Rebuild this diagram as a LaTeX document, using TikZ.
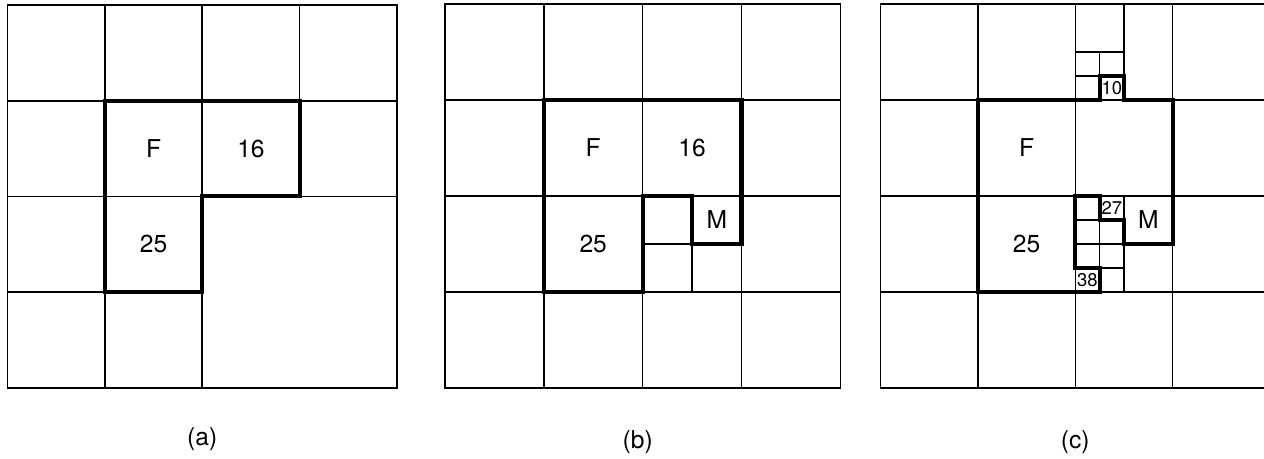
\documentclass[tikz,border=0pt]{standalone}
\usepackage{fontspec}
\setmainfont{TeX Gyre Heros}
\begin{document}
\begin{tikzpicture}[x=0.02cm,y=-0.02cm,cell/.style={line width=0.9pt},region/.style={line width=2.3pt,line join=miter},lbl/.style={font=\fontsize{14}{16}\selectfont},small/.style={font=\fontsize{10.5}{12}\selectfont,inner sep=0pt}]
\useasboundingbox (0,0) rectangle (1264,459);
\clip (0,0) rectangle (1264,459);
% (a)
\begin{scope}[shift={(0.15cm,-0.1cm)},x=1.948cm,y=-1.915cm]
\draw[cell] (0,0) rectangle (4,4);
\foreach \i in {1,2} {\draw[cell] (\i,0)--(\i,4); \draw[cell] (0,\i)--(4,\i);}
\draw[cell] (3,0)--(3,2) (0,3)--(2,3);
\draw[region] (1,1)--(3,1)--(3,2)--(2,2)--(2,3)--(1,3)--cycle;
\node[lbl] (fa) at (1.5,1.5) {F};
\node[lbl] (sixa) at (2.5,1.5) {16};
\node[lbl] (twfa) at (1.5,2.5) {25};
\node[lbl] (capa) at (2,4.54) {(a)};
\end{scope}
% (b)
\begin{scope}[shift={(8.9cm,-0.08cm)},x=1.9775cm,y=-1.92cm]
\draw[cell] (0,0) rectangle (4,4);
\foreach \i in {1,2,3} {\draw[cell] (\i,0)--(\i,4); \draw[cell] (0,\i)--(4,\i);}
\draw[cell] (2.5,2)--(2.5,3) (2,2.5)--(3,2.5);
\draw[region] (1,1)--(3,1)--(3,2.5)--(2.5,2.5)--(2.5,2)--(2,2)--(2,3)--(1,3)--cycle;
\node[lbl] (fb) at (1.5,1.5) {F};
\node[lbl] (sixb) at (2.5,1.5) {16};
\node[lbl] (twfb) at (1.5,2.5) {25};
\node[lbl] (mb) at (2.75,2.25) {M};
\node[lbl] (capb) at (1.95,4.56) {(b)};
\end{scope}
% (c)
\begin{scope}[shift={(17.614cm,-0.08cm)},x=1.948cm,y=-1.92cm]
\draw[cell] (0,0) rectangle (4,4);
\foreach \i in {1,2,3} {\draw[cell] (\i,0)--(\i,4); \draw[cell] (0,\i)--(4,\i);}
\draw[cell] (2.5,0)--(2.5,1) (2,0.5)--(2.5,0.5) (2.25,0.5)--(2.25,1) (2,0.75)--(2.5,0.75);
\draw[cell] (2.5,2)--(2.5,3) (2,2.5)--(3,2.5) (2.25,2)--(2.25,3) (2,2.25)--(2.5,2.25) (2,2.75)--(2.5,2.75);
\draw[region] (1,1)--(2.25,1)--(2.25,0.75)--(2.5,0.75)--(2.5,1)--(3,1)--(3,2.5)--(2.5,2.5)--(2.5,2.25)--(2.25,2.25)--(2.25,2)--(2,2)--(2,2.75)--(2.25,2.75)--(2.25,3)--(1,3)--cycle;
\node[lbl] (fc) at (1.5,1.5) {F};
\node[lbl] (twfc) at (1.5,2.5) {25};
\node[lbl] (mc) at (2.75,2.25) {M};
\node[small] (tenc) at (2.375,0.875) {10};
\node[small] (twsc) at (2.375,2.125) {27};
\node[small] (thec) at (2.125,2.875) {38};
\node[lbl] (capc) at (2,4.56) {(c)};
\end{scope}
\end{tikzpicture}
\end{document}
